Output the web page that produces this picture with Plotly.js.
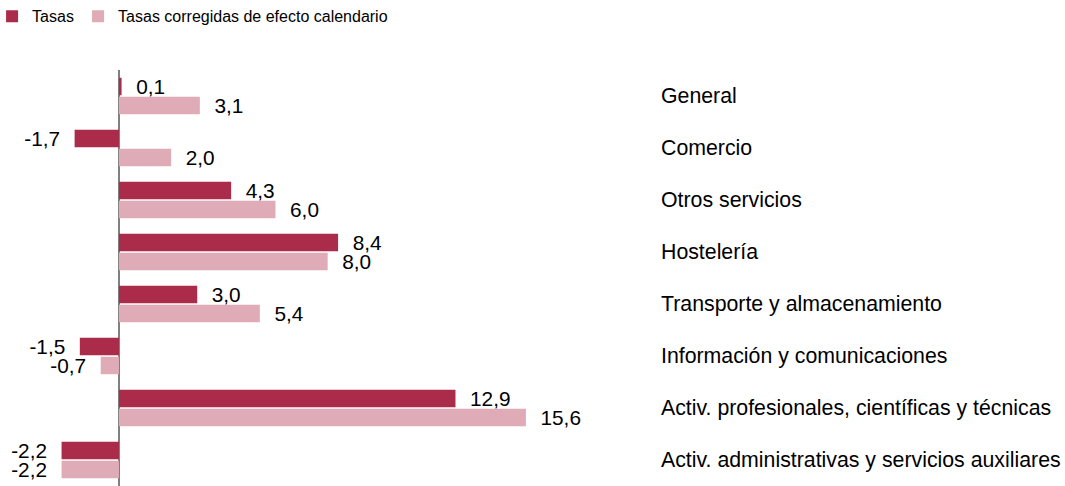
<!DOCTYPE html>
<html>
<head>
<meta charset="utf-8">
<script src="https://cdn.plot.ly/plotly-3.0.1.min.js"></script>
<style>
  html, body { margin: 0; padding: 0; background: #fff; }
  #chart { width: 1065px; height: 486px; }
</style>
</head>
<body>
<div id="chart"></div>
<script>
// sectors, top to bottom
const sectores = [
  'General',
  'Comercio',
  'Otros servicios',
  'Hostelería',
  'Transporte y almacenamiento',
  'Información y comunicaciones',
  'Activ. profesionales, científicas y técnicas',
  'Activ. administrativas y servicios auxiliares'
];

// annual rates (%)
const tasas = [0.1, -1.7, 4.3, 8.4, 3.0, -1.5, 12.9, -2.2];
const tasasCorregidas = [3.1, 2.0, 6.0, 8.0, 5.4, -0.7, 15.6, -2.2];

const nombres = ['Tasas', 'Tasas corregidas de efecto calendario'];
const colores = ['#AA2B4A', '#DEABB7'];

// label with comma decimal and a bit of padding away from the bar end
const pad = '\u00A0\u00A0';
function etiqueta(v) {
  const s = v.toFixed(1).replace('.', ',');
  return v < 0 ? s + pad : pad + s;
}

const fuente = '"Liberation Sans", Arial, sans-serif';

function serie(vals, i) {
  return {
    type: 'bar',
    orientation: 'h',
    name: nombres[i],
    x: vals,
    y: sectores,
    marker: { color: colores[i] },
    text: vals.map(etiqueta),
    textposition: 'outside',
    textfont: { family: fuente, size: 20.8, color: '#000' },
    constraintext: 'none',
    cliponaxis: false,
    hoverinfo: 'skip'
  };
}

const data = [serie(tasas, 0), serie(tasasCorregidas, 1)];
data[0].legendwidth = 41;

const layout = {
  width: 1065,
  height: 486,
  margin: { l: 0, r: 405, t: 70, b: 0, autoexpand: false },
  paper_bgcolor: '#fff',
  plot_bgcolor: '#fff',
  font: { family: fuente, color: '#000' },
  barmode: 'group',
  bargap: 0.27,
  bargroupgap: 0.08,
  showlegend: true,
  legend: {
    orientation: 'h',
    x: -0.012,
    xanchor: 'left',
    y: 1.17,
    yanchor: 'top',
    font: { family: fuente, size: 16, color: '#000' },
    itemclick: false
  },
  xaxis: {
    range: [-4.56, 20.74],
    showgrid: false,
    showticklabels: false,
    ticks: '',
    zeroline: true,
    zerolinecolor: '#808080',
    zerolinewidth: 1.5,
    showline: false,
    fixedrange: true
  },
  yaxis: {
    type: 'category',
    autorange: 'reversed',
    side: 'right',
    showgrid: false,
    showline: false,
    ticks: '',
    tickfont: { family: fuente, size: 21.3, color: '#000' },
    fixedrange: true
  }
};

Plotly.newPlot('chart', data, layout, { displayModeBar: false, staticPlot: true });
</script>
</body>
</html>
